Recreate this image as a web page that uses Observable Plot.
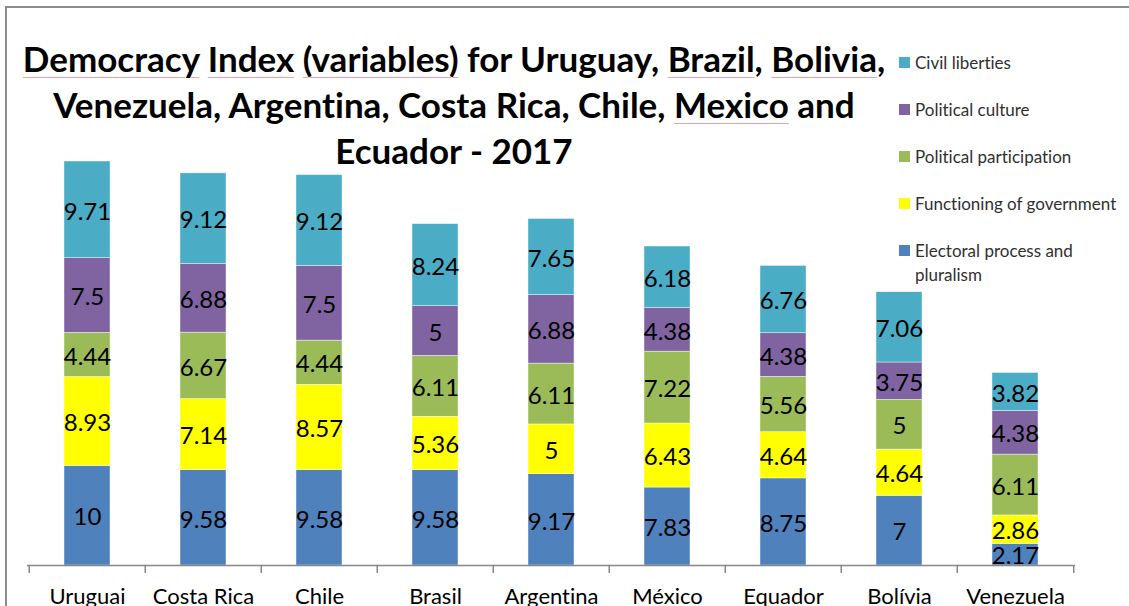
<!DOCTYPE html>
<html>
<head>
<meta charset="utf-8">
<script src="https://cdn.jsdelivr.net/npm/d3@7"></script>
<script src="https://cdn.jsdelivr.net/npm/@observablehq/plot@0.6"></script>
<style>
  html, body { margin: 0; padding: 0; background: #fff; }
  #wrap { position: relative; width: 1129px; height: 606px; overflow: hidden; font-family: Lato, "Open Sans", sans-serif; font-variant-ligatures: none; }
  #wrap svg text { font-variant-ligatures: none; }
  #frame { position: absolute; left: 5px; top: 6px; width: 1300px; height: 800px; border-left: 2px solid #8c8c8c; border-top: 2px solid #8c8c8c; pointer-events: none; }
  #title { position: absolute; left: 0; width: 908px; top: 35px; text-align: center; font-weight: bold; font-size: 35px; line-height: 46px; color: #000; }
  #title .sp { text-decoration: underline; text-decoration-color: #f4a3a3; text-decoration-thickness: 1px; text-underline-offset: 5px; }
  #legend { position: absolute; left: 899px; top: 51px; font-size: 17px; color: #303030; }
  #legend .item { display: flex; align-items: flex-start; height: 47px; line-height: 24px; }
  #legend .sw { width: 11px; height: 11px; margin-top: 6px; margin-right: 5px; flex: none; }
  #legend .lab { width: 215px; }
  #chart { position: absolute; left: 0; top: 0; }
</style>
</head>
<body>
<div id="wrap">
  <div id="chart"></div>
  <div id="title"><span class="sp">Democracy</span> <span class="sp">Index</span> <span class="sp">(variables)</span> for Uruguay, <span class="sp">Brazil</span>, <span class="sp">Bolivia</span>,<br>Venezuela, Argentina, Costa Rica, Chile, <span class="sp">Mexico</span> and<br>Ecuador - 2017</div>
  <div id="legend"></div>
  <div id="frame"></div>
</div>
<script>
const countries = ["Uruguai", "Costa Rica", "Chile", "Brasil", "Argentina", "México", "Equador", "Bolívia", "Venezuela"];
const variables = ["Electoral process and pluralism", "Functioning of government", "Political participation", "Political culture", "Civil liberties"];
const electoral = [10, 9.58, 9.58, 9.58, 9.17, 7.83, 8.75, 7, 2.17];
const functioning = [8.93, 7.14, 8.57, 5.36, 5, 6.43, 4.64, 4.64, 2.86];
const participation = [4.44, 6.67, 4.44, 6.11, 6.11, 7.22, 5.56, 5, 6.11];
const culture = [7.5, 6.88, 7.5, 5, 6.88, 4.38, 4.38, 3.75, 4.38];
const civil = [9.71, 9.12, 9.12, 8.24, 7.65, 6.18, 6.76, 7.06, 3.82];
const colors = ["#4F81BD", "#FFFF00", "#9BBB59", "#8064A2", "#4BACC6"];

const series = [electoral, functioning, participation, culture, civil];
const data = [];
countries.forEach((c, i) => {
  series.forEach((s, j) => data.push({country: c, variable: variables[j], value: s[i]}));
});

const W = 1129, H = 606, mL = 27, mR = 54, mT = 117, mB = 41;
const step = (W - mL - mR) / countries.length;

const chart = Plot.plot({
  width: W,
  height: H,
  marginLeft: mL,
  marginRight: mR,
  marginTop: mT,
  marginBottom: mB,
  style: {fontFamily: "Lato, 'Open Sans', sans-serif", fontSize: "22px", color: "#000", background: "transparent"},
  x: {domain: countries, paddingInner: 0.6, paddingOuter: 0.3, tickSize: 0, tickPadding: 23, label: null},
  y: {domain: [0, 45], axis: null},
  color: {domain: variables, range: colors},
  marks: [
    Plot.barY(data, {x: "country", y: "value", fill: "variable", stroke: "#ffffff", strokeWidth: 0.6, strokeOpacity: 0.7}),
    Plot.text(data, Plot.stackY({x: "country", y: "value", z: "variable", text: d => String(d.value), fontSize: 24, dy: 2, fill: "#000"})),
    Plot.ruleY([0], {stroke: "#868686", strokeWidth: 1.5}),
    Plot.ruleX(countries, {x: d => d, dx: -step / 2, y1: 0, y2: -0.8, stroke: "#868686", strokeWidth: 1.5}),
    Plot.ruleX(countries.slice(-1), {x: d => d, dx: step / 2, y1: 0, y2: -0.8, stroke: "#868686", strokeWidth: 1.5})
  ]
});
document.getElementById("chart").appendChild(chart);

const legend = document.getElementById("legend");
variables.slice().reverse().forEach((v, k) => {
  const color = colors[colors.length - 1 - k];
  const item = document.createElement("div");
  item.className = "item";
  item.innerHTML = `<div class="sw" style="background:${color}"></div><div class="lab">${v}</div>`;
  legend.appendChild(item);
});
</script>
</body>
</html>
